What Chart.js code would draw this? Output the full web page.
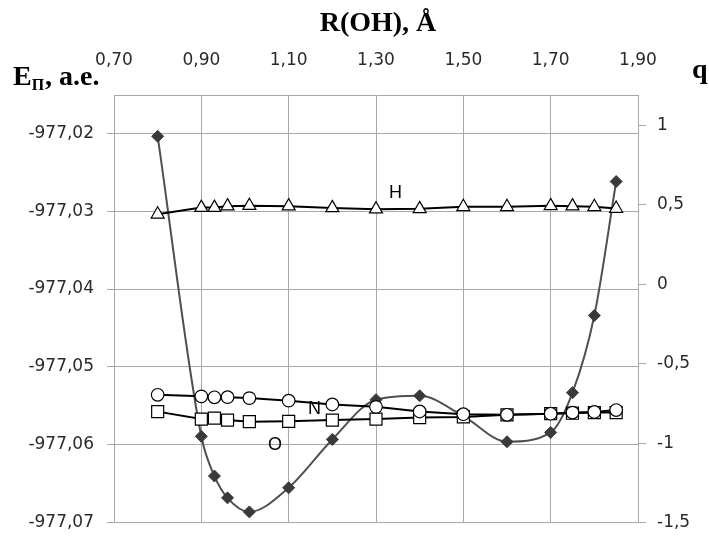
<!DOCTYPE html>
<html>
<head>
<meta charset="utf-8">
<script src="https://cdn.jsdelivr.net/npm/chart.js@4.4.0/dist/chart.umd.min.js"></script>
<style>
  html, body { margin: 0; padding: 0; background: #fff; }
  #wrap { width: 709px; height: 546px; position: relative; }
</style>
</head>
<body>
<div id="wrap"><canvas id="chart"></canvas></div>
<script>
// R(OH), Å
const rOH = [0.80, 0.90, 0.93, 0.96, 1.01, 1.10, 1.20, 1.30, 1.40, 1.50, 1.60, 1.70, 1.75, 1.80, 1.85];
// полная энергия, а.е. (левая ось)
const energy = [-977.0204, -977.0589, -977.0640, -977.0668, -977.0686, -977.0655, -977.0593, -977.0542,
                -977.0537, -977.0563, -977.0596, -977.0584, -977.0533, -977.0434, -977.0262];
// заряды атомов q (правая ось)
const qH = [0.440, 0.482, 0.482, 0.491, 0.494, 0.491, 0.480, 0.472, 0.474, 0.487, 0.487, 0.493, 0.491, 0.487, 0.476];
const qN = [-0.695, -0.705, -0.711, -0.710, -0.716, -0.732, -0.756, -0.771, -0.800, -0.817, -0.821, -0.814, -0.807, -0.803, -0.791];
const qO = [-0.801, -0.848, -0.842, -0.854, -0.864, -0.862, -0.854, -0.848, -0.838, -0.834, -0.821, -0.814, -0.811, -0.807, -0.807];

const xTicks = [0.7, 0.9, 1.1, 1.3, 1.5, 1.7, 1.9];
const eTicks = [-977.07, -977.06, -977.05, -977.04, -977.03, -977.02];
const qTicks = [-1.5, -1, -0.5, 0, 0.5, 1];

const gridColor = '#a8a8a8';
const tickFont = { family: 'DejaVu Sans', size: 17 };
const tickColor = '#2a2a2a';
const comma = s => String(s).replace('.', ',');
const pts = ys => rOH.map((x, i) => ({ x: x, y: ys[i] }));

// подписи осей и кривых
const textPlugin = {
  id: 'texts',
  afterDraw(chart) {
    const ctx = chart.ctx;
    ctx.save();
    ctx.fillStyle = '#000';
    ctx.textBaseline = 'alphabetic';

    ctx.font = 'bold 28px "Liberation Serif"';
    ctx.textAlign = 'center';
    ctx.fillText('R(OH), Å', 378, 31);

    ctx.textAlign = 'left';
    let x = 13;
    ctx.fillText('E', x, 85);
    x += ctx.measureText('E').width;
    ctx.font = 'bold 16px "Liberation Serif"';
    ctx.fillText('П', x, 90);
    x += ctx.measureText('П').width;
    ctx.font = 'bold 28px "Liberation Serif"';
    ctx.fillText(', a.e.', x + 1, 85);

    ctx.fillText('q', 692, 78);

    ctx.font = '18px "Liberation Sans"';
    ctx.fillText('H', 389, 198);
    ctx.fillText('N', 308, 414);
    ctx.fillText('O', 268, 450);
    ctx.restore();
  }
};

const ctx = document.getElementById('chart').getContext('2d');
const chart = new Chart(ctx, {
  type: 'line',
  data: {
    datasets: [
      {
        label: 'H',
        data: pts(qH),
        yAxisID: 'y1',
        borderColor: '#000',
        borderWidth: 2,
        pointStyle: 'triangle',
        pointRadius: 7.5,
        pointBackgroundColor: '#fff',
        pointBorderColor: '#000',
        pointBorderWidth: 1.2,
        tension: 0
      },
      {
        label: 'N',
        data: pts(qN),
        yAxisID: 'y1',
        borderColor: '#000',
        borderWidth: 2,
        pointStyle: 'circle',
        pointRadius: 6.3,
        pointBackgroundColor: '#fff',
        pointBorderColor: '#000',
        pointBorderWidth: 1.2,
        tension: 0
      },
      {
        label: 'O',
        data: pts(qO),
        yAxisID: 'y1',
        borderColor: '#000',
        borderWidth: 2,
        pointStyle: 'rect',
        pointRadius: 8.5,
        pointBackgroundColor: '#fff',
        pointBorderColor: '#000',
        pointBorderWidth: 1.2,
        tension: 0
      },
      {
        label: 'E',
        data: pts(energy),
        yAxisID: 'y',
        borderColor: '#505050',
        borderWidth: 2,
        pointStyle: 'rectRot',
        pointRadius: 6,
        pointBackgroundColor: '#3a3a3a',
        pointBorderColor: '#3a3a3a',
        pointBorderWidth: 1,
        cubicInterpolationMode: 'monotone',
        tension: 0.4
      }
    ]
  },
  options: {
    responsive: true,
    maintainAspectRatio: false,
    animation: false,
    layout: { padding: { top: 0, bottom: 11, left: 0, right: 0 } },
    plugins: {
      legend: { display: false },
      tooltip: { enabled: false }
    },
    scales: {
      x: {
        type: 'linear',
        position: 'top',
        min: 0.7,
        max: 1.9,
        afterBuildTicks: s => { s.ticks = xTicks.map(v => ({ value: v })); },
        afterFit: s => { s.height = 95; },
        grid: { color: gridColor, drawTicks: false },
        border: { color: gridColor },
        ticks: {
          font: tickFont,
          color: tickColor,
          padding: 24,
          maxRotation: 0,
          autoSkip: false,
          callback: v => v.toFixed(2).replace('.', ',')
        }
      },
      y: {
        type: 'linear',
        position: 'left',
        min: -977.07,
        max: -977.0151,
        afterBuildTicks: s => { s.ticks = eTicks.map(v => ({ value: v })); },
        afterFit: s => { s.width = 114; },
        grid: { color: gridColor, tickLength: 7 },
        border: { color: gridColor },
        ticks: {
          font: tickFont,
          color: tickColor,
          padding: 13,
          callback: v => v.toFixed(2).replace('.', ',')
        }
      },
      y1: {
        type: 'linear',
        position: 'right',
        min: -1.5,
        max: 1.19,
        afterBuildTicks: s => { s.ticks = qTicks.map(v => ({ value: v })); },
        afterFit: s => { s.width = 71; },
        grid: { color: gridColor, drawOnChartArea: false, tickLength: 8 },
        border: { color: gridColor },
        ticks: {
          font: tickFont,
          color: tickColor,
          padding: 11,
          callback: v => comma(v)
        }
      }
    }
  },
  plugins: [textPlugin]
});
</script>
</body>
</html>
